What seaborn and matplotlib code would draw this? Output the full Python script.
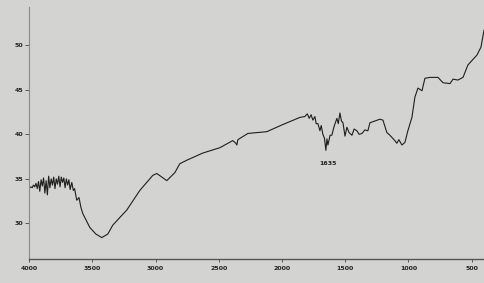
import numpy as np
import pandas as pd
import matplotlib
matplotlib.use("Agg")
import matplotlib.pyplot as plt
import seaborn as sns

# IR spectrum (wavenumber in cm-1, transmittance in %)
wavenumber = [
    3995, 3985, 3975, 3965, 3955, 3945, 3935, 3925, 3915, 3905,
    3895, 3885, 3875, 3865, 3855, 3845, 3835, 3825, 3815, 3805,
    3795, 3785, 3775, 3765, 3755, 3745, 3735, 3725, 3715, 3705,
    3695, 3685, 3675, 3662, 3650, 3640, 3623, 3605, 3590, 3575,
    3520, 3472, 3425, 3377, 3338, 3227, 3124, 3021, 2990, 2950,
    2911, 2847, 2808, 2752, 2626, 2491, 2389, 2365, 2357, 2349,
    2270, 2120, 1994, 1859, 1820, 1800, 1785, 1770, 1756, 1740,
    1730, 1716, 1700, 1690, 1677, 1665, 1653, 1645, 1637, 1620,
    1606, 1590, 1566, 1555, 1542, 1530, 1518, 1502, 1487, 1470,
    1447, 1430, 1408, 1390, 1368, 1345, 1321, 1305, 1226, 1202,
    1171, 1147, 1108, 1092, 1076, 1052, 1028, 1005, 973, 949,
    925, 893, 870, 830, 767, 727, 672, 648, 609, 569,
    530, 498, 459, 427, 403,
]
transmittance = [
    34.0, 34.1, 34.0, 34.3, 34.1, 34.5, 33.9, 34.7, 33.6, 34.9,
    34.2, 35.1, 33.4, 34.8, 33.2, 35.3, 34.0, 35.0, 34.3, 35.2,
    33.9, 35.0, 34.4, 35.3, 34.1, 35.2, 34.6, 35.1, 34.0, 35.0,
    34.3, 34.9, 33.8, 34.6, 33.7, 33.9, 32.6, 32.9, 31.8, 31.1,
    29.55, 28.8, 28.4, 28.8, 29.8, 31.5, 33.7, 35.4, 35.6, 35.2,
    34.8, 35.7, 36.7, 37.1, 37.9, 38.5, 39.3, 39.0, 38.8, 39.4,
    40.1, 40.3, 41.1, 41.9, 42.0, 42.3, 41.8, 42.2, 41.6, 42.0,
    41.2, 41.2, 40.4, 41.0, 40.0, 39.6, 38.2, 39.5, 38.8, 39.9,
    39.9, 40.8, 41.8, 41.2, 42.4, 41.5, 41.3, 39.8, 40.8, 40.2,
    39.9, 40.6, 40.4, 40.0, 40.1, 40.5, 40.4, 41.3, 41.7, 41.6,
    40.2, 39.9, 39.3, 39.0, 39.4, 38.8, 39.1, 40.4, 41.9, 44.2,
    45.2, 44.9, 46.3, 46.4, 46.4, 45.8, 45.7, 46.2, 46.1, 46.4,
    47.8, 48.3, 48.9, 49.8, 51.7,
]

x_ticks = [4000, 3500, 3000, 2500, 2000, 1500, 1000, 500]
y_ticks = [30, 35, 40, 45, 50]

df = pd.DataFrame({"wn": wavenumber, "T": transmittance})

sns.set_style("white")
bg = "#d3d3d1"
fig = plt.figure(figsize=(4.84, 2.83), dpi=100, facecolor=bg)
ax = fig.add_axes([0.06, 0.085, 0.94, 0.89], facecolor=bg)

sns.lineplot(data=df, x="wn", y="T", sort=False, color="#1e1e1e", lw=0.8, ax=ax)

ax.set_xlim(4000, 403)
ax.set_ylim(26, 54.3)
ax.set_xticks(x_ticks)
ax.set_xticklabels([str(v) for v in x_ticks], fontsize=4.5, fontweight="bold", color="#222222")
ax.set_yticks(y_ticks)
ax.set_yticklabels([str(v) for v in y_ticks], fontsize=4.5, fontweight="bold", color="#222222")
ax.tick_params(axis="y", length=3, width=0.6, color="#444444", pad=1, left=True)
ax.tick_params(axis="x", length=2, width=0.6, color="#444444", pad=3, bottom=True)
ax.set_xlabel("")
ax.set_ylabel("")
for side in ["top", "right"]:
    ax.spines[side].set_visible(False)
ax.spines["left"].set_color("#8a8a8a")
ax.spines["left"].set_linewidth(0.8)
ax.spines["bottom"].set_color("#555555")
ax.spines["bottom"].set_linewidth(1.0)

ax.text(1635, 36.7, "1635", fontsize=4.5, fontweight="bold", color="#222222", ha="center", va="center")

fig.savefig("out.png", dpi=100, facecolor=bg)
